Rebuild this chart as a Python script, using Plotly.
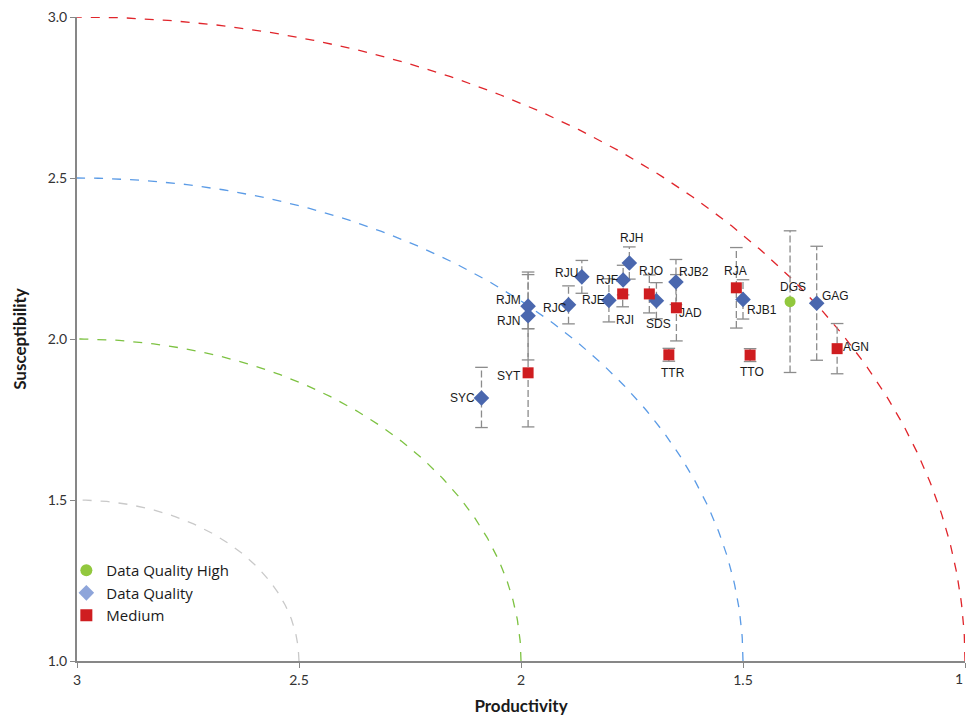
import numpy as np
import plotly.graph_objects as go

# ---- data ----
sites = ["SYC", "SYT", "RJM", "RJN", "RJC", "RJU", "RJE", "RJF", "RJI", "RJH", "RJO",
         "SDS", "RJB2", "JAD", "TTR", "RJA", "RJB1", "TTO", "DGS", "GAG", "AGN"]
productivity = [2.089, 1.984, 1.984, 1.984, 1.893, 1.863, 1.802, 1.770, 1.771, 1.756, 1.711,
                1.695, 1.651, 1.650, 1.667, 1.515, 1.500, 1.484, 1.394, 1.334, 1.288]
susceptibility = [1.817, 1.895, 2.102, 2.072, 2.106, 2.193, 2.120, 2.183, 2.140, 2.236, 2.140,
                  2.119, 2.177, 2.097, 1.951, 2.159, 2.123, 1.950, 2.116, 2.111, 1.970]
err_plus = [0.095, 0.137, 0.106, 0.128, 0.059, 0.051, 0.067, 0.046, 0.040, 0.050, 0.059,
            0.056, 0.070, 0.103, 0.020, 0.125, 0.061, 0.020, 0.220, 0.177, 0.078]
err_minus = [0.092, 0.168, 0.070, 0.137, 0.059, 0.051, 0.067, 0.046, 0.040, 0.050, 0.059,
             0.056, 0.070, 0.103, 0.020, 0.125, 0.061, 0.020, 0.220, 0.177, 0.078]
category = ["DQ", "Medium", "DQ", "DQ", "DQ", "DQ", "DQ", "DQ", "Medium", "DQ", "Medium",
            "DQ", "DQ", "Medium", "Medium", "Medium", "DQ", "Medium", "High", "DQ", "Medium"]

arc_radii = [0.5, 1.0, 1.5, 2.0]
arc_colors = ["#C9C9C9", "#7DC242", "#5B9BE6", "#E0252B"]
arc_center = (3.0, 1.0)

x_ticks = [3, 2.5, 2, 1.5, 1]
x_tick_labels = ["3", "2.5", "2", "1.5", "1"]
y_ticks = [1.0, 1.5, 2.0, 2.5, 3.0]
y_tick_labels = ["1.0", "1.5", "2.0", "2.5", "3.0"]

# label offsets in pixels (dx right, dy down) -- styling
label_offsets = {
    "SYC": (-19, 0), "SYT": (-19, 3), "RJM": (-20, -6), "RJN": (-20, 5), "RJC": (-14, 3),
    "RJU": (-15, -4), "RJE": (-15, 0), "RJF": (-16, 0), "RJI": (2, 26), "RJH": (2, -25),
    "RJO": (2, -23), "SDS": (2, 23), "RJB2": (18, -10), "JAD": (14, 5), "TTR": (4, 18),
    "RJA": (-1, -17), "RJB1": (19, 11), "TTO": (2, 17), "DGS": (3, -15), "GAG": (19, -7),
    "AGN": (19, -2),
}

fig = go.Figure()

# arcs
t = np.linspace(0, np.pi / 2, 200)
for r, c in zip(arc_radii, arc_colors):
    fig.add_trace(go.Scatter(
        x=arc_center[0] - r * np.cos(t), y=arc_center[1] + r * np.sin(t),
        mode="lines", line=dict(color=c, width=1.3, dash="dash"),
        showlegend=False, hoverinfo="skip", cliponaxis=False))

# error bars (dashed)
ex, ey = [], []
cx, cy = [], []
for x, y, ep, em in zip(productivity, susceptibility, err_plus, err_minus):
    ex += [x, x, None]
    ey += [y - em, y + ep, None]
    cx += [x, x]
    cy += [y - em, y + ep]
fig.add_trace(go.Scatter(x=ex, y=ey, mode="lines",
                         line=dict(color="#8C8C8C", width=1.3, dash="7px,3px"),
                         showlegend=False, hoverinfo="skip"))
fig.add_trace(go.Scatter(x=cx, y=cy, mode="markers",
                         marker=dict(symbol="line-ew", size=9,
                                     line=dict(color="#8C8C8C", width=1.3)),
                         showlegend=False, hoverinfo="skip"))

styles = {
    "High": dict(symbol="circle", size=11, color="#92C83E"),
    "DQ": dict(symbol="diamond", size=12, color="#4A67AE"),
    "Medium": dict(symbol="square", size=11, color="#CF1D20"),
}
for cat in ["DQ", "Medium", "High"]:
    idx = [i for i, c in enumerate(category) if c == cat]
    fig.add_trace(go.Scatter(
        x=[productivity[i] for i in idx], y=[susceptibility[i] for i in idx],
        mode="markers", marker=dict(**styles[cat], line=dict(width=0)),
        text=[sites[i] for i in idx], showlegend=False))

# legend entries
legend_items = [("Data Quality High", "circle", "#92C83E", 14),
                ("Data Quality", "diamond", "#8EA5DA", 15),
                ("Medium", "square", "#CF1D20", 13)]
for name, sym, col, sz in legend_items:
    fig.add_trace(go.Scatter(x=[None], y=[None], mode="markers", name=name,
                             marker=dict(symbol=sym, color=col, size=sz)))

for s, x, y in zip(sites, productivity, susceptibility):
    dx, dy = label_offsets[s]
    fig.add_annotation(x=x, y=y, text=s, showarrow=False, xshift=dx, yshift=-dy,
                       font=dict(family="Liberation Sans, Arial", size=12, color="#1A1A1A"))

tick_font = dict(family="Lato, Open Sans", size=14, color="#333333")
# the last x tick label sits on the page edge: draw it right-anchored so it stays whole
shown_x_labels = x_tick_labels[:-1] + [""]
fig.add_annotation(x=x_ticks[-1], y=0, xref="x", yref="paper", yanchor="top",
                   xanchor="right", yshift=-7, text=x_tick_labels[-1], showarrow=False,
                   font=tick_font)

axis_common = dict(showgrid=False, zeroline=False, showline=True, linecolor="#878787",
                   linewidth=2, ticks="outside", ticklen=5, tickcolor="#878787",
                   automargin=False, tickfont=tick_font)
fig.update_xaxes(range=[3, 1], tickvals=x_ticks, ticktext=shown_x_labels,
                 title=dict(text="<b>Productivity</b>", standoff=13,
                            font=dict(family="Lato, Open Sans", size=17, color="#1A1A1A")),
                 **axis_common)
fig.update_yaxes(range=[1, 3], tickvals=y_ticks, ticktext=y_tick_labels,
                 title=dict(text="<b>Susceptibility</b>", standoff=17,
                            font=dict(family="Lato, Open Sans", size=17, color="#1A1A1A")),
                 **axis_common)

fig.update_layout(
    width=966, height=723,
    margin=dict(l=77, r=1, t=17, b=62),
    plot_bgcolor="white", paper_bgcolor="white",
    showlegend=True,
    legend=dict(x=-0.012, y=0.166, xanchor="left", yanchor="top",
                font=dict(family="Open Sans, Lato", size=15, color="#1A1A1A"),
                bgcolor="rgba(0,0,0,0)", tracegroupgap=0, itemsizing="constant"),
)

fig.write_html("out.html")
